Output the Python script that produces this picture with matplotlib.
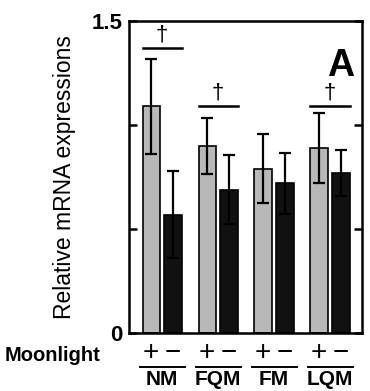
import matplotlib
matplotlib.use("Agg")
from matplotlib import pyplot as plt
from matplotlib.lines import Line2D
import numpy as np

# 数据
groups = ["NM", "FQM", "FM", "LQM"]
moon_on = [1.09, 0.90, 0.79, 0.89]
moon_on_err = [0.23, 0.135, 0.165, 0.17]
moon_off = [0.57, 0.69, 0.72, 0.77]
moon_off_err = [0.21, 0.165, 0.145, 0.11]
sig_groups = ["NM", "FQM", "LQM"]
sig_levels = [1.37, 1.09, 1.09]

plt.rcParams["font.family"] = ["Liberation Sans", "DejaVu Sans"]

fig = plt.figure(figsize=(3.7, 3.91), dpi=100)
ax = fig.add_axes([0.349, 0.148, 0.629, 0.798])

x = np.arange(len(groups))
off = 0.195
w = 0.31
err_kw = dict(ecolor="black", elinewidth=1.6, capsize=4, capthick=1.6)
ax.bar(x - off, moon_on, w, yerr=moon_on_err, color="#b8b8b8",
       edgecolor="black", linewidth=1.2, error_kw=err_kw, zorder=2)
ax.bar(x + off, moon_off, w, yerr=moon_off_err, color="#111111",
       edgecolor="black", linewidth=1.2, error_kw=err_kw, zorder=2)

# 显著性标记
for g, lvl in zip(sig_groups, sig_levels):
    i = groups.index(g)
    ax.plot([i - off - w / 2, i + off + w / 2], [lvl, lvl], color="black", lw=1.8)
    ax.text(i, lvl + 0.015, "†", ha="center", va="bottom", fontsize=16)

ax.set_xlim(-0.59, 3.57)
ax.set_ylim(0, 1.5)
ax.set_xticks([])
ax.set_yticks([0, 0.5, 1.0, 1.5])
ax.set_yticklabels(["0", "", "", "1.5"], fontsize=16, fontweight="bold")
ax.tick_params(axis="y", direction="in", length=6, width=1.8, right=True, pad=5)
for s in ax.spines.values():
    s.set_linewidth(1.8)

ax.set_ylabel("Relative mRNA expressions", fontsize=16.5, labelpad=11)

ax.text(0.965, 0.915, "A", transform=ax.transAxes, ha="right", va="top",
        fontsize=27, fontweight="bold")

# 横轴下方标签
trans = ax.get_xaxis_transform()
for i, g in enumerate(groups):
    ax.text(i - off, -0.063, "+", transform=trans, ha="center", va="center",
            fontsize=20, clip_on=False)
    ax.text(i + off, -0.063, "\u2212", transform=trans, ha="center", va="center",
            fontsize=20, clip_on=False)
    ax.add_line(Line2D([i - 0.39, i + 0.41], [-0.107, -0.107], transform=trans,
                       color="black", lw=1.4, clip_on=False))
    ax.text(i, -0.15, g, transform=trans, ha="center", va="center",
            fontsize=15, fontweight="bold", clip_on=False)

fig.text(0.012, 0.092, "Moonlight", ha="left", va="center",
         fontsize=14.5, fontweight="bold")

plt.savefig("out.png", dpi=100)
